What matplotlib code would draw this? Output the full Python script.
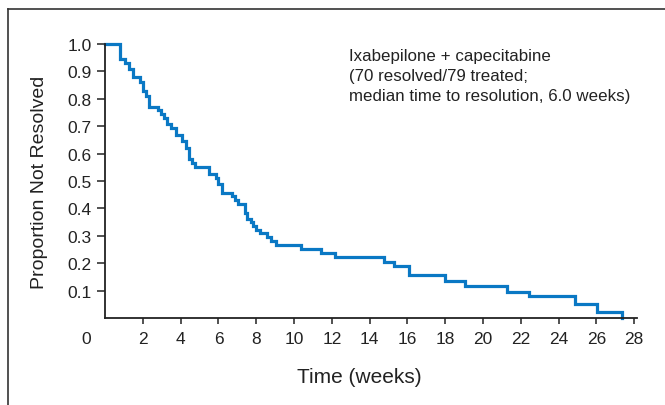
import matplotlib
matplotlib.use("Agg")
import matplotlib.pyplot as plt
from matplotlib.lines import Line2D
from matplotlib.transforms import blended_transform_factory


OUTPUT_PNG = "out.png"

# step curve (weeks, proportion not resolved)
TIMES = [0, 0.79, 1.08, 1.28, 1.46, 1.84, 2.0, 2.18, 2.33, 2.78, 2.96, 3.14, 3.3,
         3.48, 3.75, 4.08, 4.3, 4.42, 4.58, 4.76, 5.5, 5.88, 6.0, 6.2, 6.73, 6.9,
         7.05, 7.4, 7.5, 7.72, 7.85, 8.0, 8.2, 8.57, 8.8, 9.02, 10.37, 11.42, 12.16,
         14.74, 15.3, 16.09, 18.0, 19.05, 21.25, 22.44, 24.88, 26.03, 27.33]
PROPORTION = [1.0, 0.945, 0.93, 0.91, 0.88, 0.86, 0.83, 0.81, 0.77, 0.76, 0.745,
              0.73, 0.71, 0.695, 0.67, 0.645, 0.62, 0.58, 0.565, 0.55, 0.525, 0.51,
              0.49, 0.455, 0.445, 0.43, 0.415, 0.385, 0.36, 0.35, 0.335, 0.32, 0.31,
              0.295, 0.28, 0.266, 0.254, 0.238, 0.222, 0.205, 0.189, 0.156, 0.134,
              0.118, 0.095, 0.079, 0.052, 0.024, 0.0]

X_TICKS = [2, 4, 6, 8, 10, 12, 14, 16, 18, 20, 22, 24, 26, 28]
Y_TICKS = [0.1, 0.2, 0.3, 0.4, 0.5, 0.6, 0.7, 0.8, 0.9, 1.0]
ANNOTATION = ("Ixabepilone + capecitabine\n"
              "(70 resolved/79 treated;\n"
              "median time to resolution, 6.0 weeks)")

LINE_COLOR = "#0a78c4"
AXIS_COLOR = "#222222"
TEXT_COLOR = "#222222"


def main():
    plt.rcParams["font.family"] = ["Liberation Sans", "DejaVu Sans"]

    fig = plt.figure(figsize=(6.65, 4.06), dpi=100)
    ax = fig.add_axes([0.158, 0.214, 0.8, 0.675])

    ax.step(TIMES, PROPORTION, where="post", color=LINE_COLOR, lw=2.3,
            clip_on=False, solid_joinstyle="miter")

    ax.set_xlim(0, 28.15)
    ax.set_ylim(0, 1.0)
    ax.set_xticks(X_TICKS)
    ax.set_yticks(Y_TICKS)
    ax.set_yticklabels([f"{v:.1f}" for v in Y_TICKS])

    for side in ("top", "right"):
        ax.spines[side].set_visible(False)
    for side in ("left", "bottom"):
        ax.spines[side].set_color(AXIS_COLOR)
        ax.spines[side].set_linewidth(1.3)

    ax.tick_params(axis="both", direction="out", colors=AXIS_COLOR,
                   labelcolor=TEXT_COLOR, labelsize=12.5, width=1.1)
    ax.tick_params(axis="y", length=5.5, pad=4)
    ax.tick_params(axis="x", length=4.5, pad=5)

    # lone "0" at the origin, left of the y axis
    trans = blended_transform_factory(ax.transAxes, ax.transData)
    ax.text(-0.036, -0.075, "0", transform=trans, ha="center", va="center",
            fontsize=12.5, color=TEXT_COLOR)

    ax.set_xlabel("Time (weeks)", fontsize=15, color=TEXT_COLOR)
    ax.xaxis.set_label_coords(0.477, -0.18)
    ax.set_ylabel("Proportion Not Resolved", fontsize=14, color=TEXT_COLOR,
                  labelpad=14)

    ax.text(12.9, 0.985, ANNOTATION, ha="left", va="top", fontsize=12.2,
            color=TEXT_COLOR, linespacing=1.42)

    # frame around the panel: only left and top edges are visible
    fig.add_artist(Line2D([8 / 665, 8 / 665], [0, 1 - 10 / 406],
                          transform=fig.transFigure, color="#333333", lw=1.2))
    fig.add_artist(Line2D([8 / 665, 1], [1 - 10 / 406, 1 - 10 / 406],
                          transform=fig.transFigure, color="#333333", lw=1.2))

    fig.savefig(OUTPUT_PNG, dpi=100)
    plt.close(fig)


main()
